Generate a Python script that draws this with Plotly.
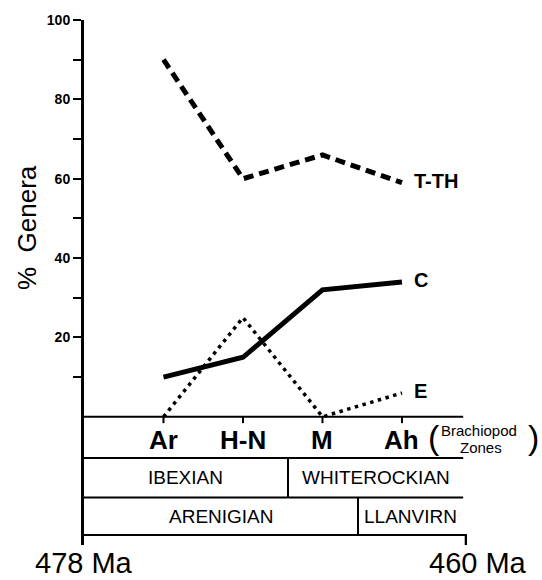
import plotly.graph_objects as go

# ---------------- data ----------------
zones = ["Ar", "H-N", "M", "Ah"]
zone_pos = [1, 2, 3, 4]
series_names = ["T-TH", "C", "E"]
tth_values = [90, 60, 66, 59]
c_values = [10, 15, 32, 34]
e_values = [0, 25, 0, 6]
y_tick_values = [10, 20, 30, 40, 50, 60, 70, 80, 90, 100]
y_tick_labels = ["", "20", "", "40", "", "60", "", "80", "", "100"]
stage_row1 = ["IBEXIAN", "WHITEROCKIAN"]
stage_row2 = ["ARENIGIAN", "LLANVIRN"]
age_labels = ["478 Ma", "460 Ma"]

# ---------------- layout constants ----------------
W, H = 542, 580
ML, MR, MT, MB = 84, 75, 20, 35
X_MAX = 4.818
Y_MIN, Y_MAX = -32.3, 100
FONT = "Liberation Sans, Arial, Helvetica, sans-serif"

row_lines = [0, -10.4, -20.3, -29.8]
table_right = 4.77
div1_x = 2.566
div2_x = 3.447

fig = go.Figure()

styles = [
    dict(width=5, dash="10px,6px"),
    dict(width=5, dash="solid"),
    dict(width=3.5, dash="3.5px,4.5px"),
]
all_series = [tth_values, c_values, e_values]


def ann(**kw):
    kw.setdefault("showarrow", False)
    kw.setdefault("xanchor", "center")
    kw.setdefault("yanchor", "middle")
    fig.add_annotation(**kw)


for name, vals, st in zip(series_names, all_series, styles):
    fig.add_trace(go.Scatter(
        x=zone_pos, y=vals, mode="lines", name=name,
        line=dict(color="black", width=st["width"], dash=st["dash"]),
        cliponaxis=False, showlegend=False,
    ))
    ann(x=zone_pos[-1] + 0.13, y=vals[-1] + 0.5, text=name, xanchor="left",
        font=dict(family=FONT, size=20, color="black", weight="bold"))

shapes = []
line_style = dict(color="black", width=2)
for i, yv in enumerate(row_lines):
    x1 = X_MAX if i == len(row_lines) - 1 else table_right
    shapes.append(dict(type="line", xref="x", yref="y", x0=0, x1=x1, y0=yv, y1=yv, line=line_style))
# right end tick
shapes.append(dict(type="line", xref="x", yref="y", x0=X_MAX - 0.01, x1=X_MAX - 0.01,
                   y0=row_lines[-1], y1=Y_MIN, line=dict(color="black", width=3)))
# zone ticks
for zp in zone_pos:
    shapes.append(dict(type="line", xref="x", yref="y", x0=zp, x1=zp, y0=0, y1=-1.6,
                       line=dict(color="black", width=2)))
# dividers
shapes.append(dict(type="line", xref="x", yref="y", x0=div1_x, x1=div1_x,
                   y0=row_lines[1], y1=row_lines[2], line=line_style))
shapes.append(dict(type="line", xref="x", yref="y", x0=div2_x, x1=div2_x,
                   y0=row_lines[2], y1=row_lines[3], line=line_style))

# zone labels
for z, zp in zip(zones, zone_pos):
    ann(x=zp, y=-5.8, text=z, font=dict(family=FONT, size=26, color="black", weight="bold"))

# stage rows
row1_mid = (row_lines[1] + row_lines[2]) / 2
row2_mid = (row_lines[2] + row_lines[3]) / 2
row_font = dict(family=FONT, size=19, color="black")
ann(x=div1_x / 2, y=row1_mid, text=stage_row1[0], font=row_font)
ann(x=(div1_x + table_right) / 2, y=row1_mid, text=stage_row1[1], font=row_font)
ann(x=div2_x / 2, y=row2_mid, text=stage_row2[0], font=row_font)
ann(x=(div2_x + table_right) / 2, y=row2_mid, text=stage_row2[1], font=row_font)


def px(xp):
    return (xp - ML) / (W - ML - MR)


def py(yp):
    return (H - MB - yp) / (H - MT - MB)


# brachiopod zones bracket
ann(xref="paper", yref="paper", x=px(434), y=py(437), text="(", font=dict(family=FONT, size=34, color="black"))
ann(xref="paper", yref="paper", x=px(533), y=py(437), text=")", font=dict(family=FONT, size=34, color="black"))
ann(xref="paper", yref="paper", x=px(479), y=py(430), text="Brachiopod", font=dict(family=FONT, size=15, color="black"))
ann(xref="paper", yref="paper", x=px(481), y=py(447), text="Zones", font=dict(family=FONT, size=15, color="black"))

# age labels
ann(xref="paper", yref="paper", x=px(84), y=py(563), text=age_labels[0], font=dict(family=FONT, size=29, color="black"))
ann(xref="paper", yref="paper", x=px(478), y=py(563), text=age_labels[1], font=dict(family=FONT, size=29, color="black"))

# y title
ann(xref="paper", yref="paper", x=px(27), y=py(228), text="%  Genera", textangle=-90,
    font=dict(family=FONT, size=26, color="black"))

fig.update_layout(
    width=W, height=H,
    margin=dict(l=ML, r=MR, t=MT, b=MB, pad=0),
    paper_bgcolor="white", plot_bgcolor="white",
    shapes=shapes,
    xaxis=dict(range=[0, X_MAX], visible=False, showgrid=False, zeroline=False, fixedrange=True),
    yaxis=dict(range=[Y_MIN, Y_MAX], showgrid=False, zeroline=False,
               showline=True, linecolor="black", linewidth=3,
               ticks="outside", ticklen=8, tickwidth=2, tickcolor="black",
               tickvals=y_tick_values, ticktext=y_tick_labels,
               tickfont=dict(family=FONT, size=14, color="black", weight="bold"),
               fixedrange=True),
)

fig.write_html("out.html", config={"displayModeBar": False},
               post_script="document.body.style.margin='0';")
